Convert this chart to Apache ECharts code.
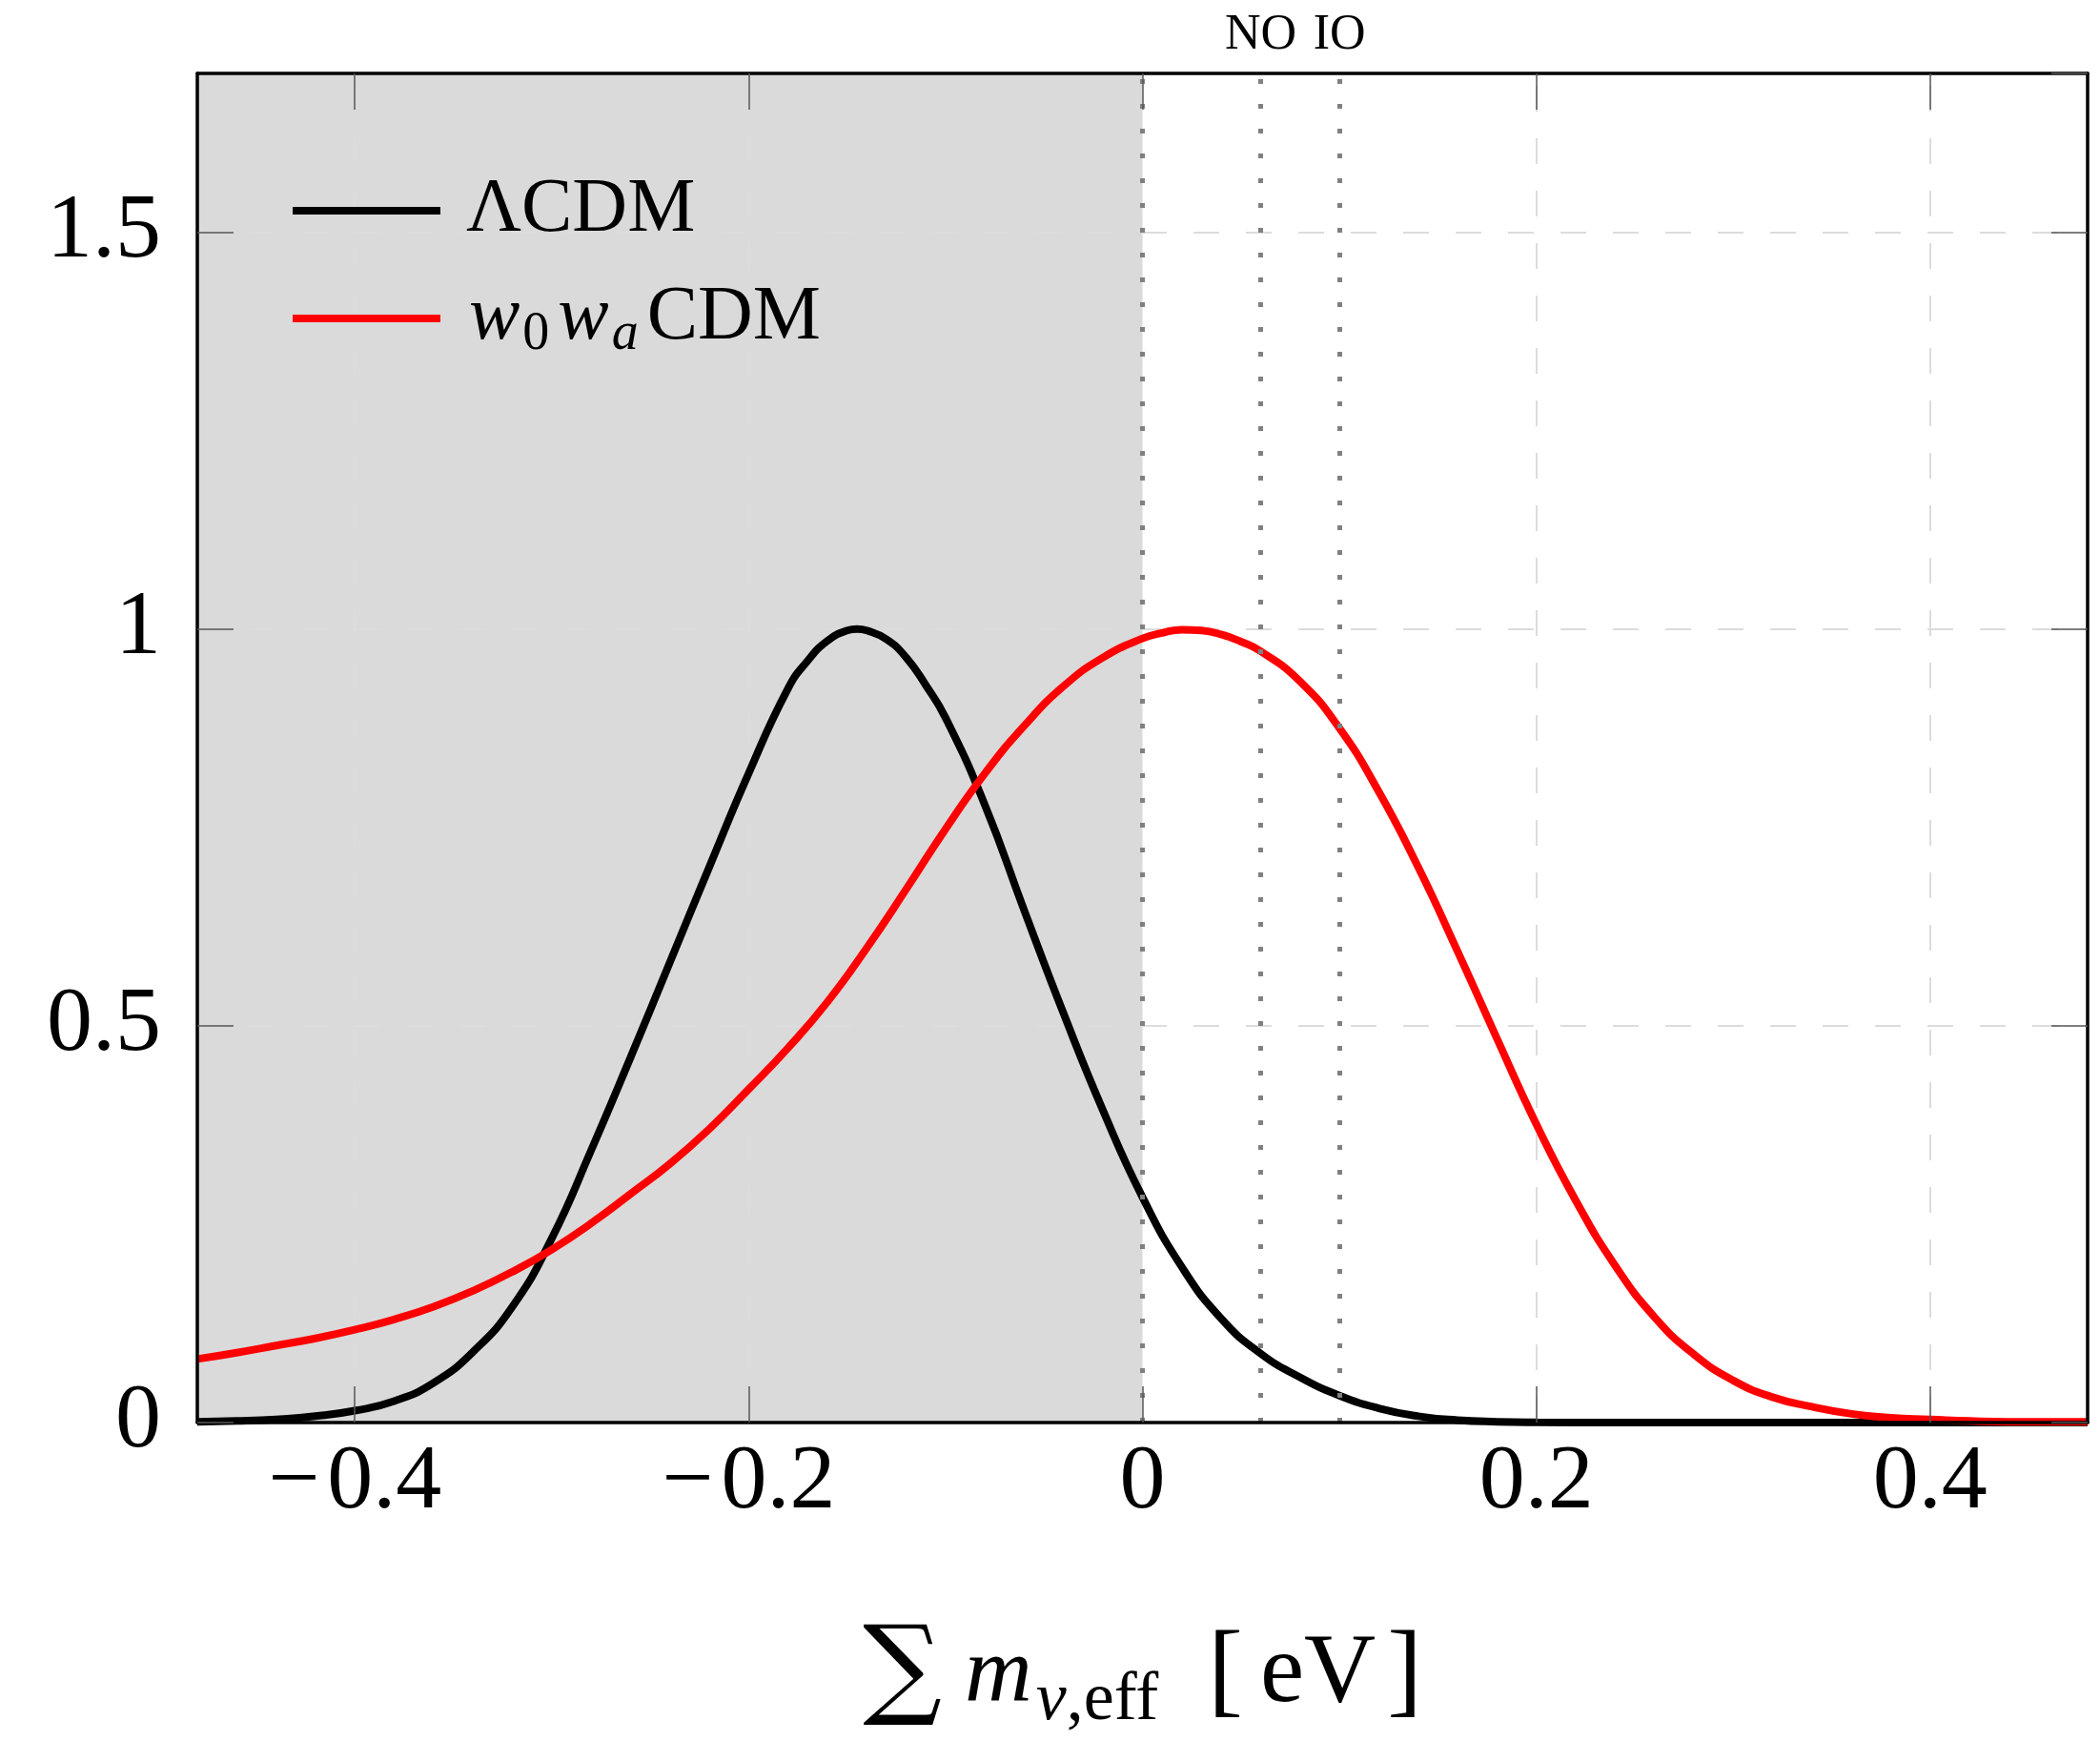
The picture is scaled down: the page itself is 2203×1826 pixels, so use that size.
<!DOCTYPE html>
<html>
<head>
<meta charset="utf-8">
<script src="https://cdn.jsdelivr.net/npm/echarts@6/dist/echarts.min.js"></script>
<style>
html,body{margin:0;padding:0;background:#fff;}
#chart{width:2203px;height:1826px;}
</style>
</head>
<body>
<div id="chart"></div>
<script>
// ---- data ----
const lcdmX = [-0.48,-0.46,-0.44,-0.42,-0.40,-0.38,-0.36,-0.34,-0.32,-0.30,-0.28,-0.26,-0.24,-0.22,-0.20,-0.18,-0.17,-0.16,-0.15,-0.145,-0.14,-0.13,-0.12,-0.11,-0.10,-0.08,-0.06,-0.04,-0.02,0.00,0.02,0.04,0.06,0.08,0.10,0.12,0.14,0.16,0.18,0.20,0.24,0.30,0.40,0.48];
const lcdmValues = [0.001,0.002,0.004,0.008,0.015,0.027,0.050,0.089,0.146,0.232,0.343,0.460,0.580,0.700,0.818,0.925,0.960,0.985,0.998,1.000,0.998,0.987,0.964,0.929,0.888,0.778,0.645,0.515,0.393,0.284,0.196,0.131,0.087,0.057,0.034,0.018,0.008,0.003,0.001,0.0003,0,0,0,0];
const w0waX = [-0.48,-0.46,-0.44,-0.42,-0.40,-0.38,-0.36,-0.34,-0.32,-0.30,-0.28,-0.26,-0.24,-0.22,-0.20,-0.18,-0.16,-0.14,-0.12,-0.10,-0.08,-0.06,-0.04,-0.02,0.00,0.01,0.02,0.03,0.04,0.05,0.06,0.08,0.10,0.12,0.14,0.16,0.18,0.20,0.22,0.24,0.26,0.28,0.30,0.32,0.34,0.36,0.38,0.40,0.42,0.44,0.46,0.48];
const w0waValues = [0.080,0.088,0.097,0.106,0.117,0.130,0.146,0.166,0.190,0.218,0.251,0.288,0.326,0.370,0.420,0.472,0.530,0.598,0.672,0.748,0.818,0.878,0.928,0.964,0.988,0.995,0.999,0.998,0.993,0.984,0.972,0.934,0.875,0.795,0.700,0.594,0.484,0.376,0.280,0.198,0.133,0.086,0.053,0.032,0.020,0.011,0.006,0.004,0.002,0.001,0.001,0.001];
const xTickValues = [-0.4,-0.2,0,0.2,0.4];
const xGridLines = [-0.4,-0.2,0.2,0.4];
const yGridLines = [0.5,1,1.5];
const shadeRange = [-0.48, 0];
const orderingLines = [0, 0.059, 0.1];
const orderingLabels = ['', 'NO', 'IO'];
const seriesNames = ['ΛCDM', 'w0waCDM'];

const lcdm = lcdmX.map((x,i)=>[x, lcdmValues[i]]);
const w0wa = w0waX.map((x,i)=>[x, w0waValues[i]]);

const SERIF = '"Liberation Serif","DejaVu Serif",serif';
const tickStyle = {show:true, inside:true, length:38, lineStyle:{color:'#555', width:1.5}};
const axisLine = {show:true, onZero:false, lineStyle:{color:'#000', width:3.5}};

const chart = echarts.init(document.getElementById('chart'), null, {renderer:'canvas'});
chart.setOption({
  animation:false,
  backgroundColor:'#fff',
  grid:{left:207, right:13, top:77, bottom:334, containLabel:false, outerBoundsMode:'none'},
  legend:{
    orient:'vertical', left:302, top:176, itemGap:28,
    itemWidth:155, itemHeight:8, icon:'rect',
    data:seriesNames,
    formatter:function(n){
      if(n==='ΛCDM') return '{t|ΛCDM}';
      return '{i|w}{s|0}{i|w}{si|a}{t|CDM}';
    },
    textStyle:{
      fontFamily:SERIF, fontSize:80, color:'#000', padding:[0,0,0,22],
      rich:{
        t:{fontFamily:SERIF, fontSize:80, lineHeight:80, color:'#000'},
        i:{fontFamily:SERIF, fontStyle:'italic', fontSize:80, lineHeight:80, color:'#000', padding:[0,0,0,3]},
        s:{fontFamily:SERIF, fontSize:56, lineHeight:56, color:'#000', padding:[34,6,0,3]},
        si:{fontFamily:SERIF, fontStyle:'italic', fontSize:56, lineHeight:56, color:'#000', padding:[34,9,0,3]}
      }
    }
  },
  xAxis:[{
    type:'value', position:'bottom', min:-0.48, max:0.48, z:8,
    axisLine:axisLine,
    axisTick:Object.assign({customValues:xTickValues}, tickStyle),
    splitLine:{show:false},
    axisLabel:{
      customValues:xTickValues, margin:16,
      fontFamily:SERIF, fontSize:96, lineHeight:96, color:'#000',
      formatter:function(v){ return v<0 ? '\u2212\u200A'+Math.abs(v) : String(v); }
    },
    name:'{sum|∑}{m|m}{nu|ν}{sub|,eff}{br|[}{ev|eV}{br2|]}',
    nameLocation:'middle', nameGap:205,
    nameTextStyle:{
      color:'#000',
      rich:{
        sum:{fontFamily:'"DejaVu Serif",serif', fontSize:116, lineHeight:120, color:'#000', padding:[0,24,0,0]},
        m:{fontFamily:SERIF, fontStyle:'italic', fontSize:98, lineHeight:120, color:'#000'},
        nu:{fontFamily:SERIF, fontStyle:'italic', fontSize:72, lineHeight:72, color:'#000', padding:[54,0,0,4]},
        sub:{fontFamily:SERIF, fontSize:72, lineHeight:72, color:'#000', padding:[54,0,0,0]},
        br:{fontFamily:SERIF, fontSize:110, lineHeight:120, color:'#000', padding:[0,0,0,52]},
        br2:{fontFamily:SERIF, fontSize:110, lineHeight:120, color:'#000', padding:[0,0,0,0]},
        ev:{fontFamily:SERIF, fontSize:104, lineHeight:120, color:'#000', padding:[0,12,0,18]}
      }
    }
  },{
    type:'value', position:'top', min:-0.48, max:0.48, z:8,
    axisLine:axisLine,
    axisTick:Object.assign({customValues:xTickValues}, tickStyle),
    splitLine:{show:false},
    axisLabel:{show:false}
  }],
  yAxis:[{
    type:'value', position:'left', min:0, max:1.7, interval:0.5, z:8,
    axisLine:axisLine,
    axisTick:tickStyle,
    splitLine:{show:false},
    axisLabel:{margin:38, fontFamily:SERIF, fontSize:96, color:'#000', showMaxLabel:false,
      formatter:function(v){ return v > 1.6 ? '' : String(v); }}
  },{
    type:'value', position:'right', min:0, max:1.7, interval:0.5, z:8,
    axisLine:axisLine,
    axisTick:tickStyle,
    splitLine:{show:false},
    axisLabel:{show:false}
  }],
  series:[{
    name:seriesNames[0], type:'line', data:lcdm, smooth:0.5, showSymbol:false, z:4,
    lineStyle:{color:'#000', width:8}, itemStyle:{color:'#000'},
    markArea:{
      z:1, silent:true,
      itemStyle:{color:'#dadada', opacity:1},
      data:[[{xAxis:shadeRange[0]},{xAxis:shadeRange[1]}]]
    },
    markLine:{
      z:2, silent:true, symbol:['none','none'],
      label:{show:false},
      lineStyle:{color:'#dcdcdc', width:2, type:[27,28]},
      data:xGridLines.map(v=>({xAxis:v})).concat(yGridLines.map(v=>({yAxis:v})))
    }
  },{
    name:seriesNames[1], type:'line', data:w0wa, smooth:0.5, showSymbol:false, z:4,
    lineStyle:{color:'#ff0000', width:8}, itemStyle:{color:'#ff0000'},
    markLine:{
      z:6, silent:true, symbol:['none','none'],
      lineStyle:{color:'#808080', width:5, type:[5,21], cap:'butt'},
      label:{show:true, position:'end', distance:14, fontFamily:SERIF, fontSize:52, color:'#000',
        formatter:function(p){ return orderingLabels[p.dataIndex]; }},
      data:orderingLines.map(v=>({xAxis:v}))
    }
  }]
});
</script>
</body>
</html>
